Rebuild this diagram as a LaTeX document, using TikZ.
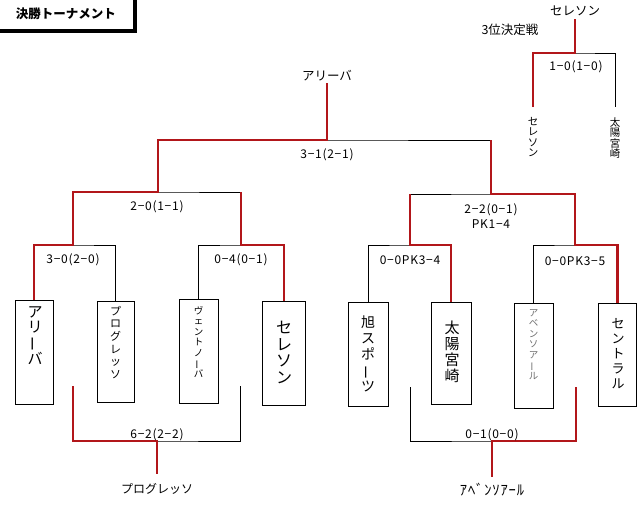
\documentclass[tikz,border=0pt]{standalone}
\usepackage{fontspec}
\usepackage{graphicx}
\setmainfont{Noto Sans CJK JP}
\newfontfamily\scorefont{Noto Sans CJK JP}[LetterSpace=6]
\definecolor{winred}{RGB}{178,22,26}
\definecolor{softgray}{RGB}{110,110,110}
\newcommand\vbar{\rotatebox[origin=c]{90}{ー}}
\begin{document}
\begin{tikzpicture}[x=1pt,y=-1pt,
  tbox/.style={draw,line width=0.9pt,inner sep=0,anchor=north},
  blk/.style={draw=black,line width=0.7pt},
  redln/.style={draw=winred,line width=2.2pt},
  scr/.style={font=\scorefont\fontsize{12}{15.5}\selectfont,inner sep=0,align=center},
  lbl/.style={font=\fontsize{12.5}{14}\selectfont,inner sep=0},
  vt/.style n args={2}{font=\fontsize{#1}{#2}\selectfont,align=center,anchor=north,inner sep=0},
]
\useasboundingbox (0,0) rectangle (640,517);

% title
\node[draw,line width=0.8pt,minimum width=135pt,minimum height=31pt,anchor=north west,inner sep=0,
      font=\bfseries\fontsize{12.5}{14}\selectfont] (title) at (-2,-2) {決勝トーナメント};
\draw[line width=4pt] ([xshift=1.5pt]title.north east) -- ([xshift=1.5pt,yshift=-1.5pt]title.south east)
  -- ([yshift=-1.5pt]title.south west);

% team boxes
\node[tbox,minimum width=38pt,minimum height=104pt] (b1) at (34,300) {};
\node[tbox,minimum width=37pt,minimum height=101pt] (b2) at (115.5,301) {};
\node[tbox,minimum width=39pt,minimum height=104pt] (b3) at (198.5,299) {};
\node[tbox,minimum width=43pt,minimum height=104pt] (b4) at (284,301) {};
\node[tbox,minimum width=40pt,minimum height=104pt] (b5) at (368,302) {};
\node[tbox,minimum width=40pt,minimum height=102pt] (b6) at (451,302) {};
\node[tbox,minimum width=39pt,minimum height=105pt] (b7) at (533.5,303) {};
\node[tbox,minimum width=38pt,minimum height=103pt] (b8) at (617.5,303) {};

% team names (vertical)
\node[vt={15}{15}] (n1) at (35,306) {ア\\リ\\\vbar\\バ};
\node[vt={11}{12.6}] (n2) at (115.5,306) {プ\\ロ\\グ\\レ\\ッ\\ソ};
\node[vt={9.5}{10.5}] (n3) at (198.5,306) {ヴ\\ェ\\ン\\ト\\ノ\\\vbar\\バ};
\node[vt={16}{16.5}] (n4) at (284,321) {セ\\レ\\ソ\\ン};
\node[vt={14}{16}] (n5) at (368,316) {旭\\ス\\ポ\\\vbar\\ツ};
\node[vt={15}{16}] (n6) at (452,321) {太\\陽\\宮\\崎};
\node[vt={9.5}{10.5},text=softgray] (n7) at (533.5,309) {ア\\ベ\\ン\\ソ\\ア\\\vbar\\ル};
\node[vt={13}{15}] (n8) at (618,318) {セ\\ン\\ト\\ラ\\ル};

% junctions
\coordinate (q1) at (73,245);
\coordinate (q2) at (241,245);
\coordinate (q3) at (410,245);
\coordinate (q4) at (575,245);
\coordinate (s1) at (158,192);
\coordinate (s2) at (491,194);
\coordinate (f) at (327,140);

\node[lbl,anchor=south,inner ysep=2pt] (champ) at (327,83) {アリーバ};

% black bracket lines
\draw[blk] (b1.north) |- (q1) -| (b2.north);
\draw[blk] (b3.north) |- (q2) -| (b4.north);
\draw[blk] (b5.north) |- (q3) -| (b6.north);
\draw[blk] (b7.north) |- (q4) -| (b8.north);
\draw[blk] (q1) |- (s1) -| (q2);
\draw[blk] (q3) |- (s2) -| (q4);
\draw[blk] (s1) |- (f) -| (s2);
\draw[blk] (f) -- (champ.south);

% winner paths
\draw[redln] (b1.north) |- (q1) |- (s1) |- (f) -- (champ.south);
\draw[redln] (b4.north) |- (q2) -- (q2 |- s1);
\draw[redln] (b6.north) |- (q3) -- (q3 |- s2);
\draw[redln] (b8.north) |- (q4) |- (s2) -- (s2 |- f);

% scores
\node[scr] (r1) at (327,155) {3−1(2−1)};
\node[scr] (r2) at (157,207) {2−0(1−1)};
\node[scr] (r3) at (73,260) {3−0(2−0)};
\node[scr] (r4) at (241,260) {0−4(0−1)};
\node[scr] (r5) at (491,216) {2−2(0−1)\\PK1−4};
\node[scr] (r6) at (410,260) {0−0PK3−4};
\node[scr] (r7) at (575,261) {0−0PK3−5};

% lower bracket (left)
\coordinate (c1) at (73,386);
\coordinate (c2) at (240,386);
\coordinate (c3) at (157,441);
\node[lbl,anchor=north,inner ysep=9pt,font=\fontsize{12}{14}\selectfont] (p1) at (157,474) {プログレッソ};
\draw[blk] (c1) |- (c3) -| (c2);
\draw[redln] (c1) |- (c3) -- (p1.north);
\node[scr] (r8) at (157,435) {6−2(2−2)};

% lower bracket (right)
\coordinate (c4) at (410,387);
\coordinate (c5) at (576,387);
\coordinate (c6) at (492,441);
\node[lbl,anchor=north,inner ysep=6pt,font=\scorefont\fontsize{14.5}{15}\selectfont] (p2) at (492,477) {ｱﾍﾞﾝｿｱｰﾙ};
\draw[blk] (c4) |- (c6) -| (c5);
\draw[redln] (c5) |- (c6) -- (p2.north);
\node[scr] (r9) at (492,435) {0−1(0−0)};

% third place match
\node[lbl,anchor=south,inner ysep=3pt] (tw) at (575,19) {セレソン};
\node[lbl] (tt) at (510,30) {3位決定戦};
\coordinate (tj) at (575,53);
\node[vt={10.5}{10.5},inner ysep=10pt] (v1) at (533,107) {セ\\レ\\ソ\\ン};
\node[vt={10.5}{10.5},inner ysep=10pt] (v2) at (615,107) {太\\陽\\宮\\崎};
\draw[blk] (v1.north) |- (tj) -| (v2.north);
\draw[redln] (v1.north) |- (tj) -- (tw.south);
\node[scr] (r10) at (576,67) {1−0(1−0)};
\end{tikzpicture}
\end{document}
